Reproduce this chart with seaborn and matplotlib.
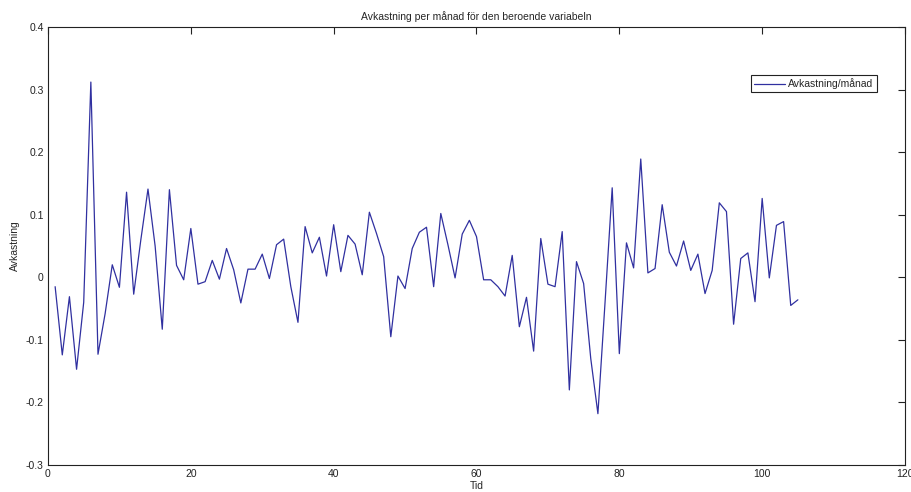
import numpy as np
import pandas as pd
import matplotlib
matplotlib.use("Agg")
import matplotlib.pyplot as plt
import seaborn as sns

# Data (months 1..105)
tid = list(range(1, 106))
avkastning = [
    -0.015, -0.124, -0.031, -0.147, -0.040, 0.312, -0.123, -0.058, 0.020, -0.016,
    0.136, -0.027, 0.060, 0.141, 0.050, -0.083, 0.140, 0.019, -0.004, 0.078,
    -0.011, -0.007, 0.027, -0.003, 0.046, 0.012, -0.041, 0.013, 0.013, 0.037,
    -0.002, 0.052, 0.061, -0.015, -0.072, 0.081, 0.039, 0.064, 0.002, 0.084,
    0.009, 0.067, 0.053, 0.004, 0.104, 0.070, 0.033, -0.095, 0.002, -0.018,
    0.046, 0.072, 0.080, -0.015, 0.102, 0.052, -0.001, 0.069, 0.091, 0.065,
    -0.004, -0.004, -0.015, -0.030, 0.035, -0.079, -0.032, -0.118, 0.062, -0.011,
    -0.015, 0.073, -0.180, 0.025, -0.010, -0.130, -0.218, -0.040, 0.143, -0.122,
    0.055, 0.015, 0.189, 0.007, 0.014, 0.116, 0.040, 0.018, 0.058, 0.011,
    0.037, -0.026, 0.011, 0.119, 0.105, -0.075, 0.030, 0.039, -0.039, 0.126,
    -0.001, 0.083, 0.089, -0.045, -0.036,
]
x_ticks = [0, 20, 40, 60, 80, 100, 120]
y_ticks = [-0.3, -0.2, -0.1, 0, 0.1, 0.2, 0.3, 0.4]
y_ticklabels = ["-0.3", "-0.2", "-0.1", "0", "0.1", "0.2", "0.3", "0.4"]

df = pd.DataFrame({"Tid": tid, "Avkastning": avkastning})

sns.set_style("white")
plt.rcParams["font.family"] = ["Liberation Sans", "DejaVu Sans"]

fig = plt.figure(figsize=(9.12, 4.92), dpi=100)
ax = fig.add_axes([48 / 912, (492 - 465) / 492, 857 / 912, 438 / 492])

sns.lineplot(data=df, x="Tid", y="Avkastning", ax=ax, color="#3030a0",
             linewidth=0.9, label="Avkastning/månad")

ax.set_xlim(0, 120)
ax.set_ylim(-0.3, 0.4)
ax.set_xticks(x_ticks)
ax.set_xticklabels([str(v) for v in x_ticks])
ax.set_yticks(y_ticks)
ax.set_yticklabels(y_ticklabels)
ax.tick_params(axis="both", direction="in", length=5, width=0.8, labelsize=7.5,
               colors="#222222", top=True, right=True, pad=3)
for sp in ax.spines.values():
    sp.set_visible(True)
    sp.set_color("#222222")
    sp.set_linewidth(0.8)

ax.set_title("Avkastning per månad för den beroende variabeln", fontsize=7.5, pad=5)
ax.set_xlabel("Tid", fontsize=7.5, labelpad=1)
ax.set_ylabel("Avkastning", fontsize=7.5, labelpad=4)

leg = ax.legend(loc="upper right", bbox_to_anchor=(0.967, 0.890), fontsize=7.5,
                frameon=True, fancybox=False, edgecolor="#222222",
                framealpha=1, borderpad=0.3, handlelength=3.0,
                handletextpad=0.3, borderaxespad=0)
leg.get_frame().set_linewidth(0.8)

fig.savefig("out.png", dpi=100, facecolor="white")
